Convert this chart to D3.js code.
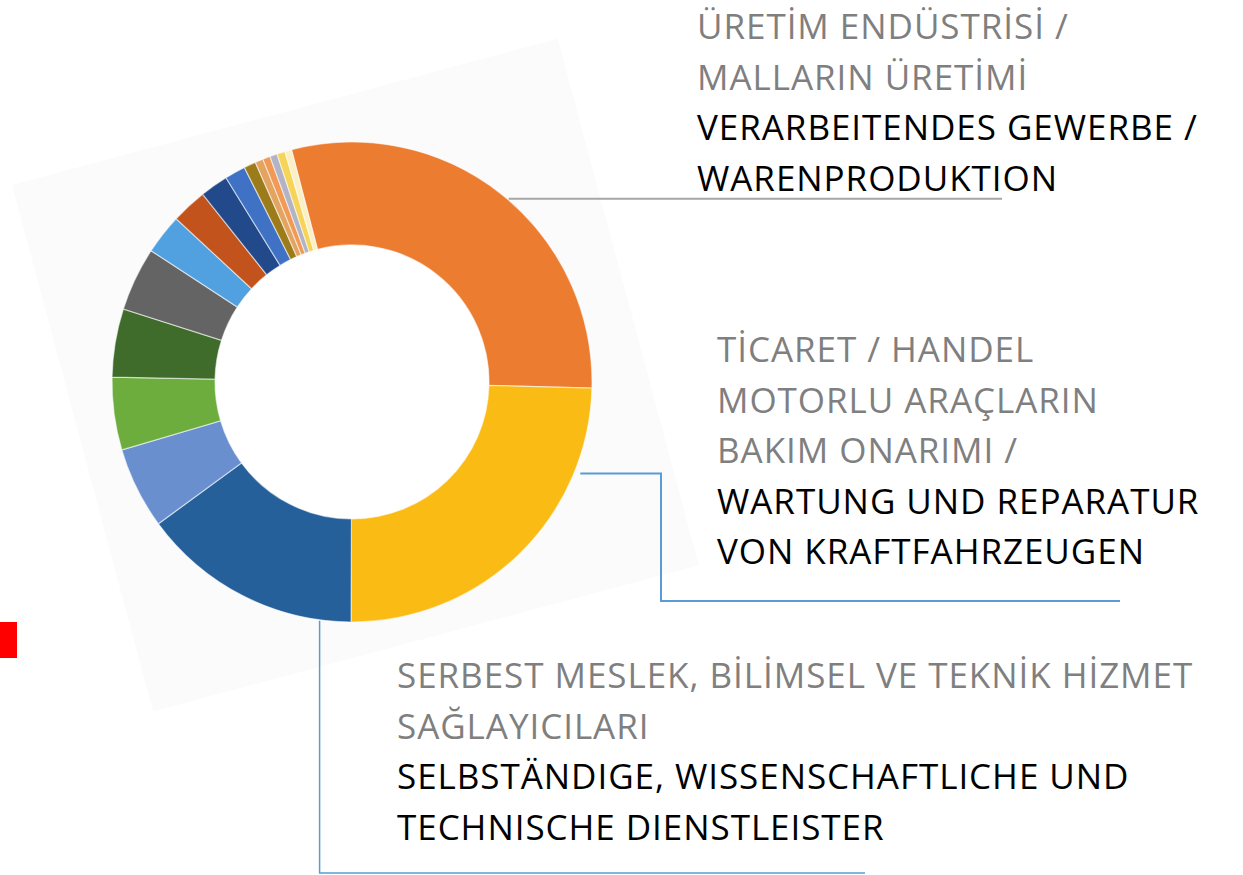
<!DOCTYPE html>
<html>
<head>
<meta charset="utf-8">
<script src="https://cdn.jsdelivr.net/npm/d3@7"></script>
<style>
  body { margin: 0; background: #fff; }
  svg { display: block; }
  .lbl { font-family: "Open Sans", "Noto Sans", sans-serif; font-size: 35px; letter-spacing: 0.95px; }
</style>
</head>
<body>
<div id="chart"></div>
<script>
////////////////////  sector shares (percent) //////////////////////////////

var sliceNames = ["Verarbeitendes Gewerbe", "Handel / Kfz", "Dienstleister", "s4", "s5", "s6", "s7", "s8",
                  "s9", "s10", "s11", "s12", "s13", "s14", "s15", "s16", "s17"];
var sliceValues = [29.5, 24.7, 14.9, 5.5, 4.9, 4.6, 4.3, 2.7, 2.4, 1.9, 1.4, 0.8, 0.55, 0.5, 0.5, 0.55, 0.45];
var sliceColors = ["#ec7c30", "#f9bb14", "#26609a", "#6a8fcf", "#6cad3e", "#3f6c2a", "#646464", "#51a0e0",
                   "#c3531c", "#22498a", "#3f72c4", "#9c7c1a", "#e3a462", "#f19a55", "#b3b3c6", "#f5d457", "#fbefc6"];

var labelTr = [
  ["ÜRETİM ENDÜSTRİSİ /", "MALLARIN ÜRETİMİ"],
  ["TİCARET / HANDEL", "MOTORLU ARAÇLARIN", "BAKIM ONARIMI /"],
  ["SERBEST MESLEK, BİLİMSEL VE TEKNİK HİZMET", "SAĞLAYICILARI"]
];
var labelDe = [
  ["VERARBEITENDES GEWERBE /", "WARENPRODUKTION"],
  ["WARTUNG UND REPARATUR", "VON KRAFTFAHRZEUGEN"],
  ["SELBSTÄNDIGE, WISSENSCHAFTLICHE UND", "TECHNISCHE DIENSTLEISTER"]
];

//////////////////////////////// set up the svg ////////////////////////////////////////

var svgWidth = 1243;
var svgHeight = 875;

var svg = d3.select("#chart").append("svg")
  .attr("width", svgWidth)
  .attr("height", svgHeight);

// faint tilted backdrop of the pasted screenshot
svg.append("rect")
  .attr("x", 0).attr("y", 0)
  .attr("width", 565).attr("height", 545)
  .attr("transform", "translate(12,185) rotate(-15)")
  .attr("fill", "#fbfbfb");

// red marker at the left edge
svg.append("rect")
  .attr("x", 0).attr("y", 622)
  .attr("width", 17).attr("height", 36)
  .attr("fill", "#ff0000");

//////////////////////////////// donut ////////////////////////////////////////

var cx = 352, cy = 382;
var outerR = 240, innerR = 137;
var startA = -14.6 * Math.PI / 180;

var pie = d3.pie()
  .sort(null)
  .value(d => d)
  .startAngle(startA)
  .endAngle(startA + 2 * Math.PI);

var arc = d3.arc().innerRadius(innerR).outerRadius(outerR);

var arcs = pie(sliceValues);

var donut = svg.append("g")
  .attr("transform", `translate(${cx},${cy})`);

// white hole
donut.append("circle").attr("r", innerR).attr("fill", "#ffffff");

donut.selectAll("path")
  .data(arcs)
  .enter()
  .append("path")
  .attr("d", arc)
  .attr("fill", (d, i) => sliceColors[i])
  .attr("stroke", "#ffffff")
  .attr("stroke-opacity", 0.55)
  .attr("stroke-width", 1.2);

// point on the outer rim, part way through a slice
function rimPoint(i, frac, r) {
  var a = arcs[i].startAngle + frac * (arcs[i].endAngle - arcs[i].startAngle);
  return [cx + r * Math.sin(a), cy - r * Math.cos(a)];
}

//////////////////////////////// callouts ////////////////////////////////////////

var lineH = 50.5;

function writeLabel(k, x, y0) {
  var lines = labelTr[k].map(t => ({ t: t, c: "#7f7f7f" }))
    .concat(labelDe[k].map(t => ({ t: t, c: "#000000" })));
  svg.append("g").selectAll("text")
    .data(lines)
    .enter()
    .append("text")
    .attr("class", "lbl")
    .attr("x", x)
    .attr("y", (d, i) => y0 + i * lineH)
    .attr("fill", d => d.c)
    .text(d => d.t);
}

// 1: manufacturing
var p1 = rimPoint(0, 0.52, 241);
svg.append("path")
  .attr("d", d3.line()([p1, [1002, p1[1]]]))
  .attr("fill", "none").attr("stroke", "#a6a6a6").attr("stroke-width", 2);
writeLabel(0, 697, 39);

// 2: trade / car repair
var p2 = rimPoint(1, 0.23, 246);
svg.append("path")
  .attr("d", d3.line()([p2, [661, p2[1]], [661, 601], [1120, 601]]))
  .attr("fill", "none").attr("stroke", "#5b9bd5").attr("stroke-width", 2);
writeLabel(1, 717, 362);

// 3: professional services
var p3 = rimPoint(2, 0.14, 241);
svg.append("path")
  .attr("d", d3.line()([p3, [p3[0], 873], [865, 873]]))
  .attr("fill", "none").attr("stroke", "#5b9bd5").attr("stroke-width", 1.5);
writeLabel(2, 397, 688);

</script>
</body>
</html>
